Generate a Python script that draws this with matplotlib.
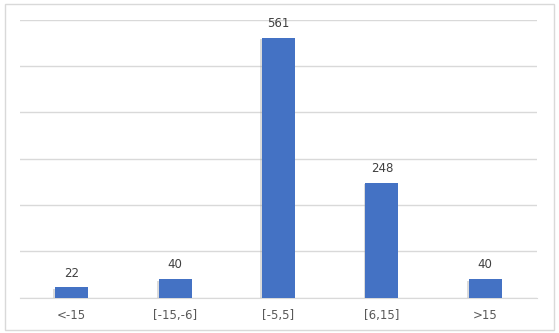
import matplotlib

matplotlib.use("Agg")
import matplotlib.pyplot as plt  # noqa: E402
import matplotlib.patheffects as pe  # noqa: E402
from matplotlib.patches import Rectangle  # noqa: E402

categories = ["<-15", "[-15,-6]", "[-5,5]", "[6,15]", ">15"]
counts = [22, 40, 561, 248, 40]
y_ticks = [0, 100, 200, 300, 400, 500, 600]

fig = plt.figure(figsize=(5.59, 3.33), dpi=100)
fig.patches.append(
    Rectangle((5 / 559, 3 / 333), 549 / 559, 326 / 333, transform=fig.transFigure,
              fill=False, edgecolor="#d9d9d9", linewidth=1.0)
)
ax = fig.add_axes([20 / 559, 1 - 297.5 / 333, 517 / 559, 278 / 333])

x = range(len(categories))
bars = ax.bar(x, counts, width=0.32, color="#4472C4", zorder=3)
# soft drop shadow like the office-style original
for b in bars:
    b.set_path_effects([
        pe.SimplePatchShadow(offset=(-1.2, -1.2), shadow_rgbFace="#9a9a9a", alpha=0.35),
        pe.Normal(),
    ])
for xi, v in zip(x, counts):
    ax.annotate(str(v), (xi, v), xytext=(0, 5.5), textcoords="offset points",
                ha="center", va="bottom", fontsize=8.5, color="#404040")

ax.set_xlim(-0.5, len(categories) - 0.5)
ax.set_ylim(0, 600)
ax.set_yticks(y_ticks)
ax.yaxis.grid(True, color="#d9d9d9", linewidth=1.0, zorder=0)
ax.tick_params(axis="y", left=False, labelleft=False)
ax.tick_params(axis="x", length=0, pad=8, labelsize=8.5, labelcolor="#595959")
ax.set_xticks(list(x))
ax.set_xticklabels(categories)
for side in ("left", "right", "top"):
    ax.spines[side].set_visible(False)
ax.spines["bottom"].set_color("#d9d9d9")

fig.savefig("out.png", dpi=100)
